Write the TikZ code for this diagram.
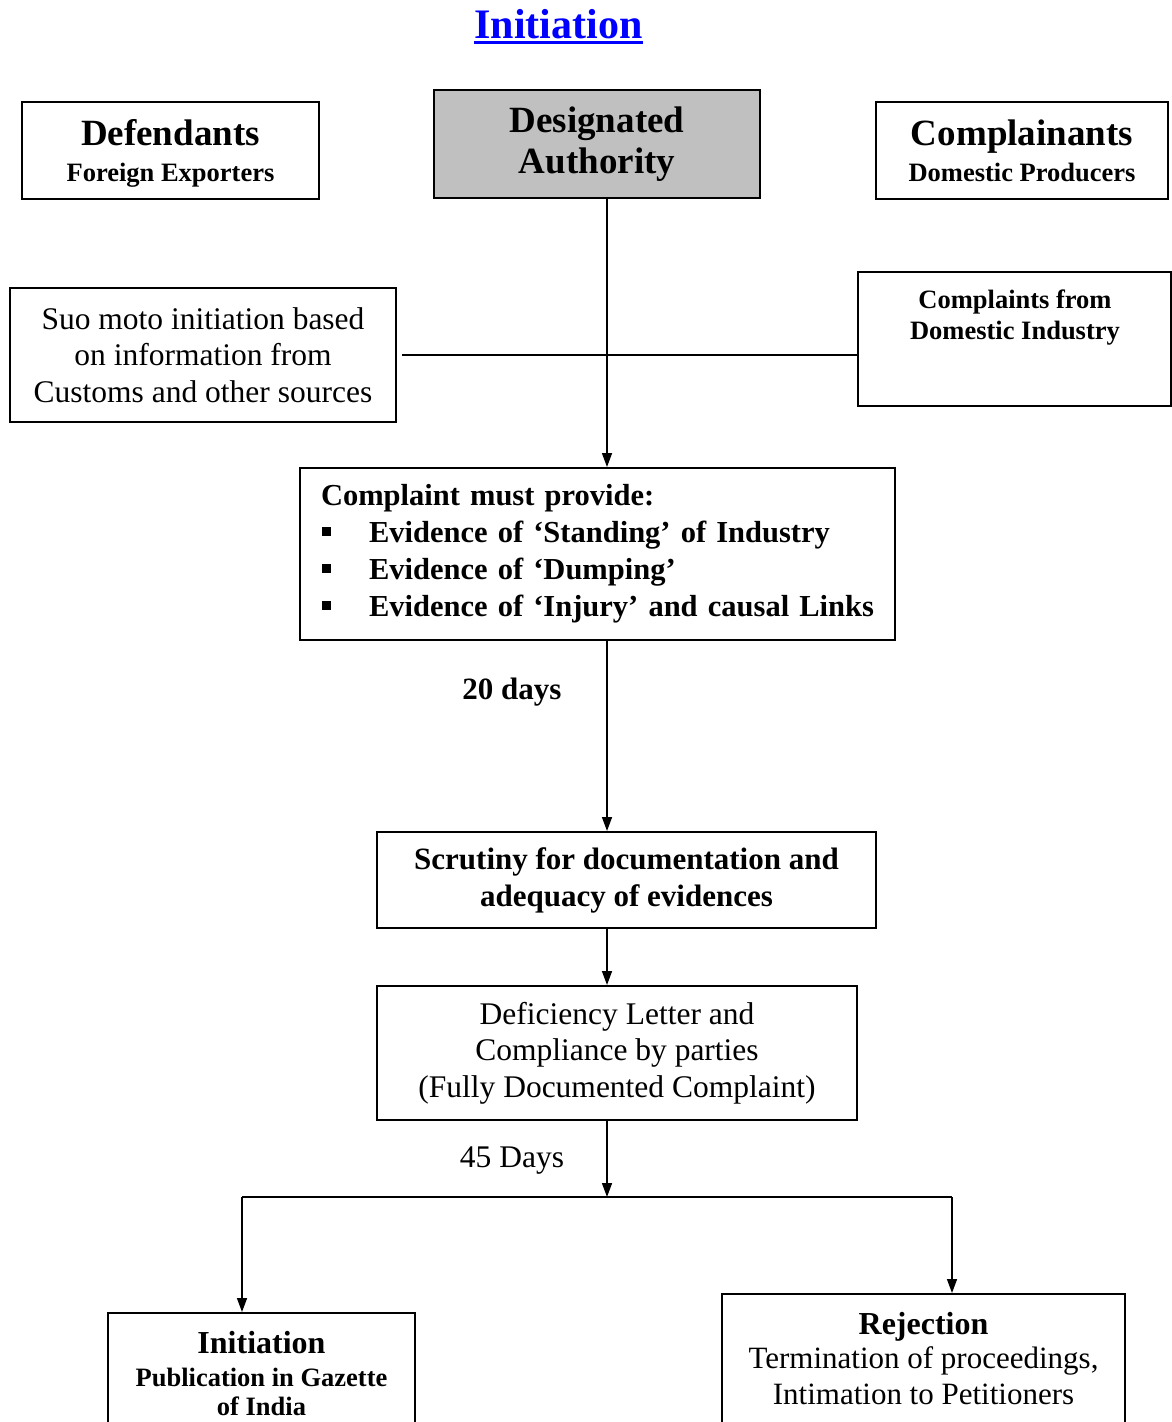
\documentclass[tikz,border=0pt]{standalone}
\usepackage{fontspec}
\setmainfont{Liberation Serif}
\usetikzlibrary{arrows.meta}
\newcommand\fHead{\fontsize{37}{41}\selectfont\bfseries}
\newcommand\fSub{\fontsize{26.5}{36}\selectfont\bfseries}
\newcommand\fReg{\fontsize{31.5}{36.5}\selectfont}
\newcommand\fBold{\fontsize{31}{37}\selectfont\bfseries}
\newcommand\fMid{\fontsize{32}{36}\selectfont\bfseries}
\newcommand\sqbullet{\hspace*{9.5pt}\rule[6.5pt]{9pt}{9pt}\hspace{38pt}}
\begin{document}
\begin{tikzpicture}[x=1pt,y=-1pt,
  box/.style={draw, line width=2pt, align=center, inner sep=0pt},
  txt/.style={align=center, inner sep=0pt},
  conn/.style={line width=1.5pt},
  arr/.style={conn, -{Triangle[length=14pt,width=10pt]}}]
\useasboundingbox (0,0) rectangle (1172,1422);
\clip (0,0) rectangle (1172,1422);
\fill[white] (0,0) rectangle (1172,1422);

% title
\node[txt, text=blue, font=\fontsize{42}{46}\selectfont\bfseries] (title) at (558.5,24) {Initiation};
\draw[blue, line width=2.5pt] ([yshift=-4pt]title.base west) -- ([yshift=-4pt]title.base east);

% top row
\node[box, minimum width=297, minimum height=97, font=\fSub] (dfd) at (170.5,150.5)
  {{\fHead Defendants}\\\raisebox{0pt}[\height][0pt]{Foreign Exporters}};
\node[box, fill={rgb,255:red,192;green,192;blue,192}, minimum width=326, minimum height=108, font=\fHead] (da) at (597,144)
  {Designated\\Authority};
\node[box, minimum width=292, minimum height=97, font=\fSub] (cpl) at (1022,150.5)
  {{\fHead Complainants}\\Domestic Producers};

% second row
\node[box, minimum width=386, minimum height=134, font=\fReg] (suo) at (203,355)
  {Suo moto initiation based\\on information from\\Customs and other sources};
\node[box, minimum width=313, minimum height=134] (cdi) at (1014.5,339) {};
\node[txt, anchor=north, font=\fontsize{26.5}{31}\selectfont\bfseries] (cdit) at (1015,290) {Complaints from\\Domestic Industry};

% complaint box
\node[box, minimum width=595, minimum height=172, inner xsep=12.5pt, text width=570pt, align=left, font=\fontsize{30.5}{37}\selectfont\bfseries] (cmp) at (597.5,554)
  {\hspace*{8.5pt}Complaint must provide:\\
   \sqbullet Evidence of ‘Standing’ of Industry\\
   \sqbullet Evidence of ‘Dumping’\\
   \sqbullet Evidence of ‘Injury’ and causal Links};

\node[box, minimum width=499, minimum height=96, font=\fBold] (scr) at (626.5,880)
  {Scrutiny for documentation and\\adequacy of evidences};

\node[box, minimum width=480, minimum height=134, font=\fReg] (dfc) at (617,1053)
  {Deficiency Letter and\\Compliance by parties\\(Fully Documented Complaint)};

% bottom boxes
\node[box, anchor=north, minimum width=307, minimum height=200] (initbox) at (261.5,1312) {};
\node[txt, anchor=north, font=\fontsize{26.5}{29}\selectfont\bfseries] (initt) at (261.5,1331)
  {{\fMid Initiation}\\[4pt]Publication in Gazette\\of India};
\node[box, anchor=north, minimum width=403, minimum height=200] (rejbox) at (923.5,1293) {};
\node[txt, anchor=north, font=\fontsize{31}{36}\selectfont] (rejt) at (923.5,1312)
  {{\fMid Rejection}\\[-2pt]Termination of proceedings,\\Intimation to Petitioners};

% labels
\node[txt, font=\fBold] (d20) at (512,692) {20 days};
\node[txt, font=\fReg] (d45) at (512,1161) {45 Days};

% connectors
\coordinate (spine) at (607,0);
\coordinate (split) at (607,1197);
\coordinate (bl) at (242,1197);
\coordinate (br) at (952,1197);
\draw[arr] (da.south -| spine) -- (cmp.north -| spine);
\draw[line width=2pt] ([xshift=5pt]suo.east) -- (suo.east -| cdi.west);
\draw[arr] (cmp.south -| spine) -- (scr.north -| spine);
\draw[arr] (scr.south -| spine) -- (dfc.north -| spine);
\draw[arr] (dfc.south -| spine) -- (split);
\draw[line width=2pt] (bl) -- (br);
\draw[arr] (bl) -- (bl |- initbox.north);
\draw[arr] (br) -- (br |- rejbox.north);
\end{tikzpicture}
\end{document}
